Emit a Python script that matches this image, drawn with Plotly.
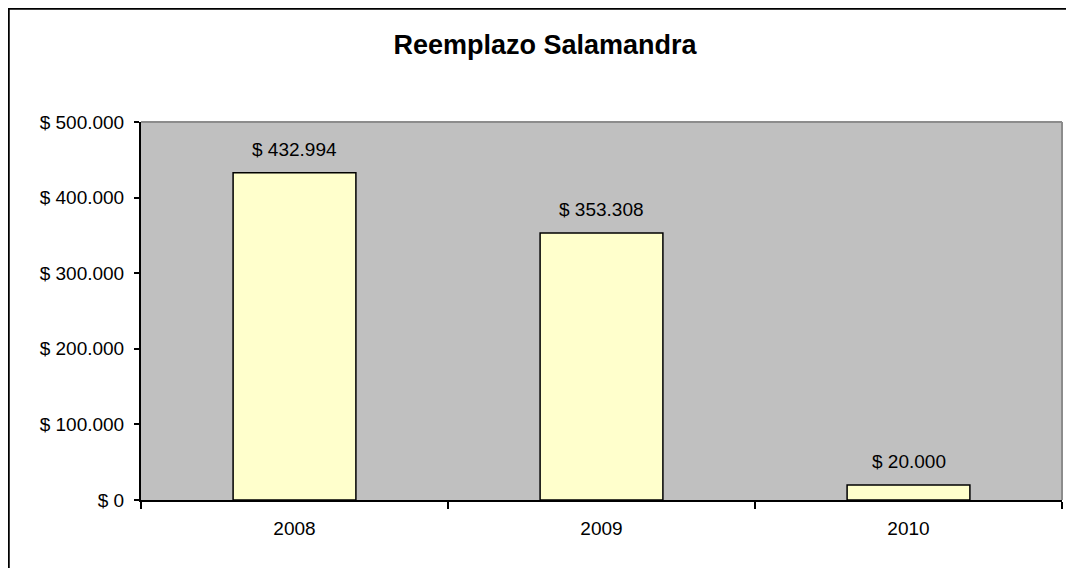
import plotly.graph_objects as go

years = ["2008", "2009", "2010"]
values = [432994, 353308, 20000]
y_ticks = [0, 100000, 200000, 300000, 400000, 500000]


def fmt(v):
    return "$ " + f"{v:,}".replace(",", ".")


FONT = "Arial, 'Liberation Sans', sans-serif"

fig = go.Figure()
fig.add_trace(go.Bar(
    x=years, y=values, width=0.4,
    marker=dict(color="#FFFFCC", line=dict(color="black", width=1.5)),
    hoverinfo="skip",
))

for i, v in enumerate(values):
    fig.add_annotation(x=i, y=v, text=fmt(v), showarrow=False, xref="x", yref="y",
                       yanchor="bottom", yshift=11, font=dict(family=FONT, size=19, color="black"))

# page body has an 8px margin; figure coordinates are page coordinates minus 8
OFF = 8
W, H = 1066, 560
L, T = 141 - OFF, 122 - OFF
R = W - (1062 - OFF)
B = H - (500 - OFF)
pw, ph = W - L - R, H - T - B


def px_x(p):
    return (p - OFF - L) / pw


def px_y(p):
    return (H - B - (p - OFF)) / ph


fig.update_layout(
    width=W, height=H,
    margin=dict(l=L, r=R, t=T, b=B),
    paper_bgcolor="white", plot_bgcolor="#C0C0C0",
    showlegend=False,
    font=dict(family=FONT, size=19, color="black"),
    title=dict(text="<b>Reemplazo Salamandra</b>", x=(545 - OFF) / W, xref="container", xanchor="center",
               y=1 - (45 - OFF) / H, yref="container", yanchor="middle",
               font=dict(family=FONT, size=27, color="black")),
    bargap=0.6,
    shapes=[
        dict(type="rect", xref="paper", yref="paper", x0=px_x(8.5), x1=px_x(1100), y0=px_y(600), y1=px_y(8.5),
             line=dict(color="black", width=2.5), layer="below"),
        dict(type="line", xref="paper", yref="paper", x0=0, x1=1, y0=1, y1=1,
             line=dict(color="#8C8C8C", width=2)),
        dict(type="line", xref="paper", yref="paper", x0=1, x1=1, y0=0, y1=1,
             line=dict(color="#8C8C8C", width=2)),
    ],
)

fig.update_xaxes(
    type="category", range=[-0.5, len(years) - 0.5],
    showline=True, linecolor="black", linewidth=2,
    ticks="outside", tickson="boundaries", ticklen=7, tickwidth=2, tickcolor="black",
    showgrid=False, ticklabelstandoff=10,
    tickfont=dict(family=FONT, size=19, color="black"),
)
fig.update_yaxes(
    range=[0, 500000], showline=True, linecolor="black", linewidth=2,
    ticks="outside", ticklen=5, tickwidth=2, tickcolor="black",
    tickvals=y_ticks, ticktext=[fmt(v) for v in y_ticks],
    showgrid=False, zeroline=False, ticklabelstandoff=6,
    tickfont=dict(family=FONT, size=19, color="black"),
)

fig.write_html("out.html")
